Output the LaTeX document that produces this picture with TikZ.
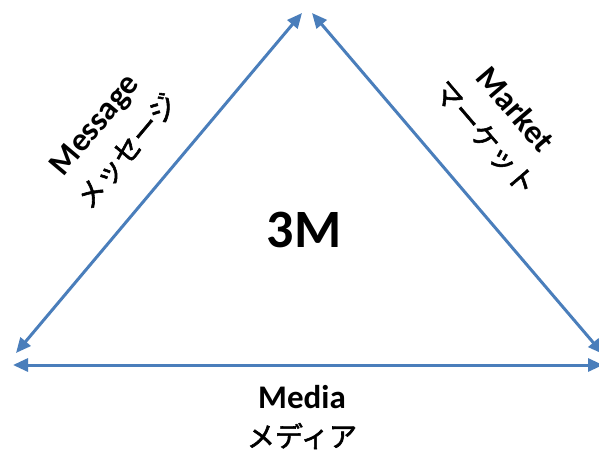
\documentclass[tikz,border=0pt]{standalone}
\usepackage{fontspec}
\setmainfont{Carlito}
\newfontfamily\jpfont[FakeBold=2]{Noto Sans CJK JP}
\usetikzlibrary{arrows.meta}
\definecolor{linkblue}{HTML}{4A7EBB}
\tikzset{
  link/.style={draw=linkblue, line width=3pt, {Triangle[length=15pt,width=13pt]}-{Triangle[length=15pt,width=13pt]}},
  entxt/.style={font=\fontsize{33}{33}\selectfont\bfseries, inner sep=0pt},
  jptxt/.style={font=\fontsize{28}{28}\selectfont\jpfont, inner sep=0pt},
  bigtxt/.style={font=\fontsize{54}{54}\selectfont\bfseries, inner sep=0pt}
}
\begin{document}
\begin{tikzpicture}[x=1pt,y=-1pt]
\useasboundingbox (0,0) rectangle (599,454);
\fill[white] (0,0) rectangle (599,454);
\coordinate (tl) at (302,13);
\coordinate (tr) at (312,13);
\coordinate (bl) at (16,353);
\coordinate (br) at (603,354);
\coordinate (ml) at (13,365);
\coordinate (mr) at (603,365);
\draw[link] (bl) -- (tl);
\draw[link] (tr) -- (br);
\draw[link] (ml) -- (mr);
\node[entxt, rotate=50] (msg) at (96,126) {Message};
\node[jptxt, rotate=50] (msgj) at (127,151) {メッセージ};
\node[entxt, rotate=-49.5] (mkt) at (516,109) {Market};
\node[jptxt, rotate=-49.5] (mktj) at (485,138) {マーケット};
\node[bigtxt] (three) at (304,230) {3M};
\node[entxt] (med) at (302,397) {Media};
\node[jptxt] (medj) at (302,436) {メディア};
\end{tikzpicture}
\end{document}
